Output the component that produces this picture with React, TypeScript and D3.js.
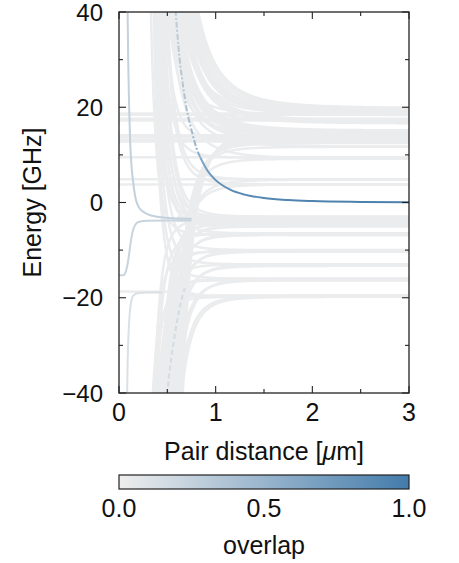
import React from "react";
import * as d3 from "d3";

const W = 459;
const H = 563;
const PL = 119, PR = 409, PT = 12, PB = 393;

const xTicks = [0, 1, 2, 3];
const xMinorTicks = [0.5, 1.5, 2.5];
const yTicks = [-40, -20, 0, 20, 40];
const yMinorTicks = [-30, -10, 10, 30];
const cbTicks = [0, 0.5, 1];

// pair states that stay flat over the whole distance range [GHz]
const flatLevels = [18.7, 18.4, 17.6, 17.2, 14.1, 13.7, 13.2, 12.8, 9.5, 4.9, 3.8, -3.0, -3.9];

// states bending up at short distance: [asymptote GHz, distance where it leaves the top (um), power]
const upperCurves: [number, number, number][] = [
  [19.8, 0.82, 4], [19.6, 0.8, 4], [19.3, 0.78, 4], [19.0, 0.76, 4], [18.8, 0.745, 4],
  [18.5, 0.73, 4], [18.3, 0.715, 4], [19.5, 0.7, 4], [17.2, 0.69, 4], [16.9, 0.675, 4],
  [16.6, 0.66, 4], [19.1, 0.65, 4], [18.6, 0.64, 4], [15.1, 0.63, 4], [14.8, 0.62, 4],
  [14.4, 0.61, 4], [14.0, 0.6, 4], [13.6, 0.59, 4], [15.0, 0.58, 4], [13.2, 0.57, 4],
  [12.8, 0.56, 4], [11.7, 0.55, 4], [17.0, 0.54, 4], [9.2, 0.53, 4], [18.4, 0.52, 4],
  [14.2, 0.51, 4], [4.8, 0.5, 6], [3.8, 0.49, 6], [13.0, 0.48, 6], [-3.0, 0.47, 6],
  [-3.8, 0.46, 6], [9.4, 0.45, 6], [-4.7, 0.44, 6], [-3.2, 0.43, 6], [-6.5, 0.42, 6],
  [-4.2, 0.41, 6], [-10.0, 0.4, 6], [-5.0, 0.39, 6], [-13.0, 0.38, 6], [-3.6, 0.37, 6],
  [-16.0, 0.365, 6], [-19.8, 0.36, 6], [-6.8, 0.33, 6],
];

// states bending down at short distance: [asymptote GHz, distance where it leaves the bottom (um), power]
const lowerCurves: [number, number, number][] = [
  [15.1, 0.66, 6], [14.8, 0.65, 6], [14.4, 0.64, 6], [14.0, 0.63, 6], [13.6, 0.62, 6],
  [13.2, 0.61, 6], [12.8, 0.6, 6], [12.5, 0.59, 6], [11.7, 0.58, 6], [9.2, 0.57, 6],
  [-19.8, 0.65, 6], [-19.6, 0.63, 6], [4.8, 0.56, 6], [3.8, 0.55, 6], [-16.0, 0.61, 6],
  [-16.3, 0.59, 6], [-13.0, 0.565, 6], [-13.3, 0.55, 6], [-10.0, 0.535, 6], [-10.3, 0.52, 6],
  [-6.5, 0.51, 6], [-6.8, 0.5, 6], [-4.7, 0.49, 6], [-5.0, 0.48, 6], [-3.8, 0.47, 6],
  [-3.0, 0.46, 6], [-3.3, 0.45, 6], [-4.4, 0.44, 6], [-10.0, 0.43, 6], [-13.0, 0.42, 6],
  [-16.0, 0.41, 6], [-19.8, 0.4, 6], [-6.5, 0.39, 6], [-16.3, 0.38, 6], [-3.5, 0.37, 6],
  [-10.3, 0.36, 6], [-19.5, 0.35, 6],
];

// highlighted state
const blueR = [0.585, 0.6, 0.63, 0.66, 0.7, 0.75, 0.8, 0.84, 0.9, 0.94, 1.0, 1.15, 1.3, 1.5, 1.75, 2.0, 2.5, 3.0];
const blueE = [40.5, 36.3, 29.6, 24.8, 19.6, 15.2, 11.5, 9.5, 7.2, 6.0, 4.7, 2.7, 1.65, 0.93, 0.5, 0.29, 0.12, 0.05];
const blueOverlap = [0.3, 0.3, 0.33, 0.35, 0.4, 0.45, 0.5, 0.6, 0.7, 0.75, 0.8, 0.85, 0.88, 0.9, 0.92, 0.93, 0.95, 0.95];

// weakly overlapping states
const lb1R = [0.088, 0.095, 0.105, 0.115, 0.13, 0.145, 0.17, 0.2, 0.24, 0.3, 0.4, 0.55, 0.75];
const lb1E = [42, 30, 20, 13, 7.5, 4.6, 1.0, -0.8, -1.8, -2.5, -3.0, -3.3, -3.4];
const lb2R = [0, 0.04, 0.06, 0.08, 0.1, 0.12, 0.14, 0.17, 0.2, 0.3, 0.5, 0.75];
const lb2E = [-15.3, -15.3, -15.0, -13.8, -11.5, -8.5, -6.2, -4.6, -4.1, -3.85, -3.8, -3.8];
const lb3R = [0.083, 0.09, 0.1, 0.11, 0.125, 0.15, 0.2, 0.3, 0.45];
const lb3E = [-42, -33, -27, -23.5, -21, -19.5, -19.0, -18.9, -18.9];
const lb4R = [0.49, 0.52, 0.56, 0.6, 0.64, 0.68];
const lb4E = [-42, -36, -30, -25, -21, -18];
const grayBendR = [0, 0.5, 0.7, 0.85, 1.0, 3.0];
const grayBendE = [-18.7, -18.75, -19.1, -19.6, -19.8, -19.8];
const lightOverlaps = [0.25, 0.22, 0.12, 0.16];

const x = d3.scaleLinear().domain([0, 3]).range([PL, PR]);
const y = d3.scaleLinear().domain([-40, 40]).range([PB, PT]);
const cmap = d3.interpolateRgb("#eeeeee", "#437bab");
const GRAY = cmap(0.02);

const rGrid = d3.range(0.02, 3.0001, 0.004);

function modelPoints(e0: number, rc: number, n: number, sign: number): [number, number][] {
  const c = sign > 0 ? (40 - e0) * Math.pow(rc, n) : (e0 + 40) * Math.pow(rc, n);
  const pts: [number, number][] = [];
  for (const r of rGrid) {
    const e = e0 + (sign * c) / Math.pow(r, n);
    if (Math.abs(e) < 60) pts.push([r, e]);
  }
  return pts;
}

const lineGen = d3
  .line<[number, number]>()
  .x((d) => x(d[0]))
  .y((d) => y(d[1]));
const smoothGen = d3
  .line<[number, number]>()
  .x((d) => x(d[0]))
  .y((d) => y(d[1]))
  .curve(d3.curveMonotoneX);

const zip = (a: number[], b: number[]) => a.map((v, i) => [v, b[i]] as [number, number]);

const FONT = "'Liberation Sans', Arial, sans-serif";
const FS = 25;
const FS_Y = 24;

export default function App() {
  const fmtY = d3.format("d");
  const fmtCb = d3.format(".1f");
  const bluePts = zip(blueR, blueE);
  const splitIdx = blueR.indexOf(0.84);
  const blueUpper = bluePts.slice(0, splitIdx + 1);
  const blueLower = bluePts.slice(splitIdx);
  const gx1 = x(blueR[0]);
  const gx2 = x(blueR[blueR.length - 1]);

  const cbY = 475, cbH = 14;

  return (
    <svg
      width={W}
      height={H}
      style={{ position: "absolute", left: 0, top: 0, background: "#fff" }}
      fontFamily={FONT}
    >
      <defs>
        <clipPath id="plotClip">
          <rect x={PL} y={PT} width={PR - PL} height={PB - PT} />
        </clipPath>
        <linearGradient id="blueGrad" gradientUnits="userSpaceOnUse" x1={gx1} x2={gx2} y1={0} y2={0}>
          {blueR.map((r, i) => (
            <stop key={i} offset={(x(r) - gx1) / (gx2 - gx1)} stopColor={cmap(blueOverlap[i])} />
          ))}
        </linearGradient>
        <linearGradient id="cbGrad" x1="0" x2="1" y1="0" y2="0">
          {d3.range(0, 1.0001, 0.1).map((t, i) => (
            <stop key={i} offset={t} stopColor={cmap(t)} />
          ))}
        </linearGradient>
      </defs>

      <g clipPath="url(#plotClip)" fill="none" strokeLinecap="butt">
        {upperCurves.map(([e0, rc, n], i) => (
          <path key={"u" + i} d={lineGen(modelPoints(e0, rc, n, 1)) || ""} stroke={GRAY} strokeWidth={2.5} />
        ))}
        {lowerCurves.map(([e0, rc, n], i) => (
          <path key={"l" + i} d={lineGen(modelPoints(e0, rc, n, -1)) || ""} stroke={GRAY} strokeWidth={2.5} />
        ))}
        {flatLevels.map((e, i) => (
          <path
            key={"f" + i}
            d={lineGen(e < 0 ? [[0.6, e], [3, e]] : [[0, e], [3, e]]) || ""}
            stroke={GRAY}
            strokeWidth={2.5}
          />
        ))}
        <path d={smoothGen(zip(grayBendR, grayBendE)) || ""} stroke={GRAY} strokeWidth={2.5} />
        <path d={smoothGen(zip(lb3R, lb3E)) || ""} stroke={cmap(lightOverlaps[2])} strokeWidth={2} />
        <path d={smoothGen(zip(lb4R, lb4E)) || ""} stroke={cmap(lightOverlaps[3])} strokeWidth={2} strokeDasharray="5 3" />
        <path d={smoothGen(zip(lb2R, lb2E)) || ""} stroke={cmap(lightOverlaps[1])} strokeWidth={2} />
        <path d={smoothGen(zip(lb1R, lb1E)) || ""} stroke={cmap(lightOverlaps[0])} strokeWidth={2} />
        <path d={smoothGen(blueUpper) || ""} stroke="url(#blueGrad)" strokeWidth={2} strokeDasharray="6 2 2 2" />
        <path d={smoothGen(blueLower) || ""} stroke="url(#blueGrad)" strokeWidth={2} />
      </g>

      {/* frame */}
      <rect x={PL} y={PT} width={PR - PL} height={PB - PT} fill="none" stroke="#222" strokeWidth={1.3} />

      {/* ticks */}
      <g stroke="#222" strokeWidth={1.1}>
        {xTicks.map((t) => (
          <g key={"xt" + t}>
            <line x1={x(t)} x2={x(t)} y1={PB} y2={PB - 7} />
            <line x1={x(t)} x2={x(t)} y1={PT} y2={PT + 7} />
          </g>
        ))}
        {xMinorTicks.map((t) => (
          <g key={"xm" + t}>
            <line x1={x(t)} x2={x(t)} y1={PB} y2={PB - 4} />
            <line x1={x(t)} x2={x(t)} y1={PT} y2={PT + 4} />
          </g>
        ))}
        {yTicks.map((t) => (
          <g key={"yt" + t}>
            <line x1={PL} x2={PL + 7} y1={y(t)} y2={y(t)} />
            <line x1={PR} x2={PR - 7} y1={y(t)} y2={y(t)} />
          </g>
        ))}
        {yMinorTicks.map((t) => (
          <g key={"ym" + t}>
            <line x1={PL} x2={PL + 4} y1={y(t)} y2={y(t)} />
            <line x1={PR} x2={PR - 4} y1={y(t)} y2={y(t)} />
          </g>
        ))}
      </g>

      {/* tick labels */}
      <g fontSize={FS} fill="#111">
        {xTicks.map((t) => (
          <text key={"xl" + t} x={x(t)} y={421} textAnchor="middle">
            {fmtY(t)}
          </text>
        ))}
      </g>
      <g fontSize={FS_Y} fill="#111">
        {yTicks.map((t) => (
          <text key={"yl" + t} x={103} y={y(t) + 8.5} textAnchor="end">
            {fmtY(t)}
          </text>
        ))}
      </g>

      {/* axis labels */}
      <text x={x(1.5)} y={460} textAnchor="middle" fontSize={FS} fill="#111">
        Pair distance [<tspan fontStyle="italic">μ</tspan>m]
      </text>
      <text
        transform={`translate(41, ${y(0)}) rotate(-90)`}
        textAnchor="middle"
        fontSize={FS}
        fill="#111"
      >
        Energy [GHz]
      </text>

      {/* colorbar */}
      <rect x={PL} y={cbY} width={PR - PL} height={cbH} fill="url(#cbGrad)" stroke="#222" strokeWidth={1.2} />
      <g fontSize={FS} fill="#111">
        {cbTicks.map((t) => (
          <text key={"cb" + t} x={PL + t * (PR - PL)} y={517} textAnchor="middle">
            {fmtCb(t)}
          </text>
        ))}
      </g>
      <text x={x(1.5)} y={554} textAnchor="middle" fontSize={FS} fill="#111">
        overlap
      </text>
    </svg>
  );
}
